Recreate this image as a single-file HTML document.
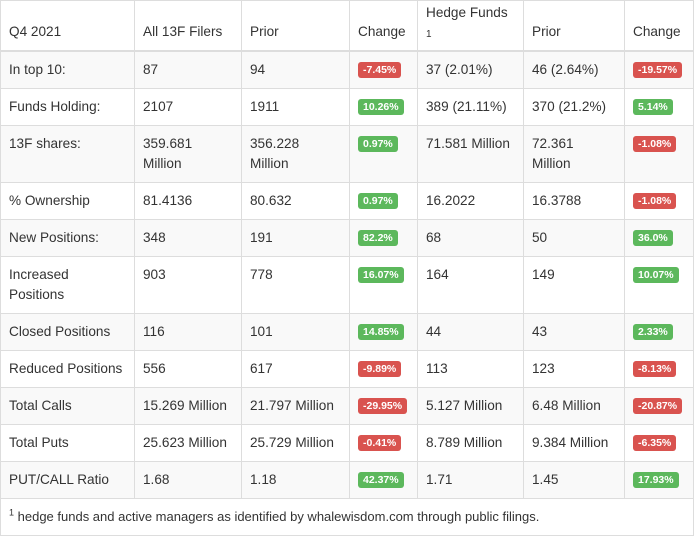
<!DOCTYPE html>
<html><head><meta charset="utf-8"><style>
body{margin:0;background:#fff;font-family:"Liberation Sans",Arial,sans-serif;color:#333;}
table{border-collapse:collapse;table-layout:fixed;width:693px;font-size:13.6px;}
td,th{border:1px solid #ddd;padding:8px 8px;line-height:20px;vertical-align:top;text-align:left;font-weight:normal;}
th{vertical-align:bottom;border-bottom:2px solid #ddd;height:31px;padding-top:0;padding-bottom:8px;}
tr.h{height:50px}
tbody tr:nth-child(odd) td{background:#f9f9f9;}
.b{display:inline-block;color:#fff;font-size:10.5px;font-weight:bold;line-height:16px;padding:0 5px;border-radius:3px;margin-top:2px;vertical-align:top;}
.r{background:#d9534f}.g{background:#5cb85c}
.foot td{background:#fff;font-size:13px;padding:8px 8px 8px;}
sup{font-size:9px;line-height:0}
</style></head><body>
<table>
<colgroup><col style="width:134px"><col style="width:107px"><col style="width:108px"><col style="width:68px"><col style="width:106px"><col style="width:101px"><col style="width:69px"></colgroup>
<thead><tr class="h"><th>Q4 2021</th><th>All 13F Filers</th><th>Prior</th><th>Change</th><th style="vertical-align:top;padding-top:2px;padding-bottom:0">Hedge Funds<br><span style="font-size:10px;line-height:14px">1</span></th><th>Prior</th><th>Change</th></tr></thead>
<tbody>
<tr><td>In top 10:</td><td>87</td><td>94</td><td><span class="b r">-7.45%</span></td><td>37 (2.01%)</td><td>46 (2.64%)</td><td><span class="b r">-19.57%</span></td></tr>
<tr><td>Funds Holding:</td><td>2107</td><td>1911</td><td><span class="b g">10.26%</span></td><td>389 (21.11%)</td><td>370 (21.2%)</td><td><span class="b g">5.14%</span></td></tr>
<tr><td>13F shares:</td><td>359.681 Million</td><td>356.228 Million</td><td><span class="b g">0.97%</span></td><td>71.581 Million</td><td>72.361<br>Million</td><td><span class="b r">-1.08%</span></td></tr>
<tr><td>% Ownership</td><td>81.4136</td><td>80.632</td><td><span class="b g">0.97%</span></td><td>16.2022</td><td>16.3788</td><td><span class="b r">-1.08%</span></td></tr>
<tr><td>New Positions:</td><td>348</td><td>191</td><td><span class="b g">82.2%</span></td><td>68</td><td>50</td><td><span class="b g">36.0%</span></td></tr>
<tr><td>Increased Positions</td><td>903</td><td>778</td><td><span class="b g">16.07%</span></td><td>164</td><td>149</td><td><span class="b g">10.07%</span></td></tr>
<tr><td>Closed Positions</td><td>116</td><td>101</td><td><span class="b g">14.85%</span></td><td>44</td><td>43</td><td><span class="b g">2.33%</span></td></tr>
<tr><td>Reduced Positions</td><td>556</td><td>617</td><td><span class="b r">-9.89%</span></td><td>113</td><td>123</td><td><span class="b r">-8.13%</span></td></tr>
<tr><td>Total Calls</td><td>15.269 Million</td><td>21.797 Million</td><td><span class="b r">-29.95%</span></td><td>5.127 Million</td><td>6.48 Million</td><td><span class="b r">-20.87%</span></td></tr>
<tr><td>Total Puts</td><td>25.623 Million</td><td>25.729 Million</td><td><span class="b r">-0.41%</span></td><td>8.789 Million</td><td>9.384 Million</td><td><span class="b r">-6.35%</span></td></tr>
<tr><td>PUT/CALL Ratio</td><td>1.68</td><td>1.18</td><td><span class="b g">42.37%</span></td><td>1.71</td><td>1.45</td><td><span class="b g">17.93%</span></td></tr>
<tr class="foot"><td colspan="7"><sup>1</sup> hedge funds and active managers as identified by whalewisdom.com through public filings.</td></tr>
</tbody></table>
</body></html>
